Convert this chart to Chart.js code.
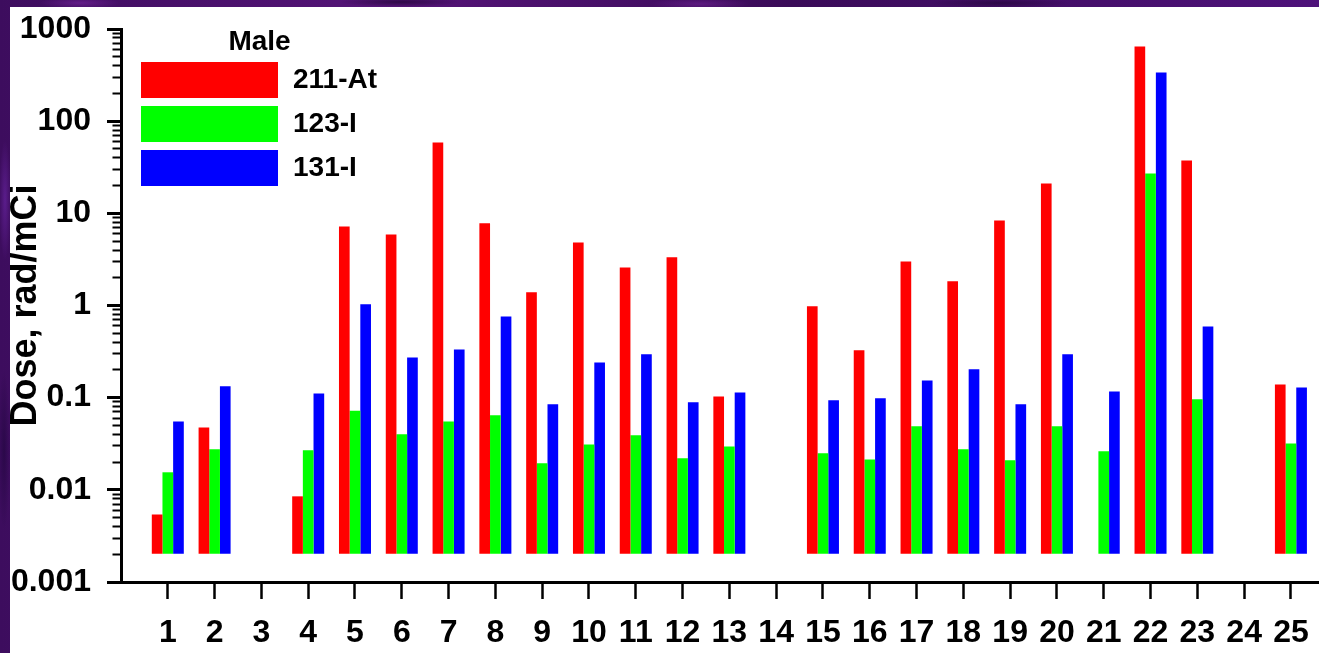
<!DOCTYPE html>
<html>
<head>
<meta charset="utf-8">
<script src="https://cdn.jsdelivr.net/npm/chart.js@4.4.1/dist/chart.umd.min.js"></script>
<style>
  html, body { margin: 0; padding: 0; width: 1319px; height: 653px; overflow: hidden; }
  body {
    background-color: #45106a;
    background-image:
      radial-gradient(ellipse 40px 6px at 80px 3px, rgba(120,40,160,0.6), transparent),
      radial-gradient(ellipse 60px 5px at 400px 2px, rgba(30,5,50,0.7), transparent),
      radial-gradient(ellipse 50px 6px at 700px 4px, rgba(120,40,160,0.5), transparent),
      radial-gradient(ellipse 70px 5px at 1000px 3px, rgba(30,5,50,0.6), transparent),
      radial-gradient(ellipse 6px 60px at 5px 200px, rgba(110,40,170,0.6), transparent),
      radial-gradient(ellipse 6px 80px at 4px 450px, rgba(30,5,60,0.6), transparent),
      linear-gradient(90deg, #3d0d5e, #551478 30%, #3a0b58 60%, #4e127a);
  }
  #wrap { position: absolute; left: 10px; top: 7px; width: 1309px; height: 646px; background: #fff; }
  canvas { display: block; }
</style>
</head>
<body>
<div id="wrap"><canvas id="c" width="1309" height="646"></canvas></div>
<script>
// ---- data ----
const categories = ['1','2','3','4','5','6','7','8','9','10','11','12','13','14','15','16','17','18','19','20','21','22','23','24','25'];
const at211 = [0.0054, 0.0476, null, 0.0085, 7.2, 5.9, 58.7, 7.8, 1.39, 4.83, 2.59, 3.33, 0.103, null, 0.98, 0.326, 3.01, 1.83, 8.38, 21.1, 0.002, 646, 37.4, null, 0.139];
const i123  = [0.0155, 0.0275, null, 0.0268, 0.0723, 0.040, 0.0553, 0.0643, 0.0194, 0.0311, 0.039, 0.022, 0.0296, null, 0.0249, 0.0214, 0.0489, 0.0275, 0.0209, 0.0489, 0.0262, 27.1, 0.0959, null, 0.0319];
const i131  = [0.0553, 0.133, null, 0.111, 1.03, 0.273, 0.334, 0.762, 0.0846, 0.241, 0.295, 0.0894, 0.114, null, 0.0938, 0.0984, 0.154, 0.203, 0.0846, 0.295, 0.117, 337, 0.593, null, 0.129];
const seriesNames = ['211-At', '123-I', '131-I'];
const seriesColors = ['#ff0000', '#00ff00', '#0000ff'];
const legendTitle = 'Male';
const yTickLabels = ['0.001', '0.01', '0.1', '1', '10', '100', '1000'];
const yTitle = 'Dose, rad/mCi';
const barBase = 0.002;

const FAM = '"Liberation Sans", Arial, Helvetica, sans-serif';
Chart.defaults.color = '#000';
Chart.defaults.font.family = FAM;

const isMajor = v => Math.abs(Math.log10(v) - Math.round(Math.log10(v))) < 1e-9;

const legendPlugin = {
  id: 'boxLegend',
  afterDraw(chart) {
    const ctx = chart.ctx;
    ctx.save();
    ctx.fillStyle = '#000';
    ctx.font = 'bold 28px ' + FAM;
    ctx.textAlign = 'center';
    ctx.textBaseline = 'middle';
    ctx.fillText(legendTitle, 249.5, 35);
    chart.data.datasets.forEach((ds, i) => {
      const y = 55 + i * 44;
      ctx.fillStyle = ds.backgroundColor;
      ctx.fillRect(131, y, 137, 36);
      ctx.fillStyle = '#000';
      ctx.font = 'bold 28px ' + FAM;
      ctx.textAlign = 'left';
      ctx.textBaseline = 'middle';
      ctx.fillText(ds.label, 283, y + 18);
    });
    ctx.restore();
  }
};

new Chart(document.getElementById('c'), {
  type: 'bar',
  data: {
    labels: categories,
    datasets: [at211, i123, i131].map((d, i) => ({
      label: seriesNames[i],
      data: d,
      backgroundColor: seriesColors[i],
      borderWidth: 0,
      base: barBase,
      categoryPercentage: 0.684,
      barPercentage: 1.0
    }))
  },
  options: {
    responsive: false,
    animation: false,
    layout: { padding: { top: 22, left: 0, right: 0, bottom: 0 } },
    plugins: { legend: { display: false }, tooltip: { enabled: false } },
    scales: {
      x: {
        type: 'linear',
        min: 0,
        max: 25.6,
        offset: false,
        afterBuildTicks: s => { s.ticks = categories.map((c, i) => ({ value: i + 1 })); },
        afterFit: s => { s.height = 71; },
        grid: { display: true, drawOnChartArea: false, offset: false, tickLength: 17, tickWidth: 2.5, tickColor: '#000' },
        border: { display: true, color: '#000', width: 3 },
        ticks: {
          autoSkip: false, maxRotation: 0, minRotation: 0, padding: 4,
          font: { family: FAM, size: 32, weight: 'bold', lineHeight: 1.87 }, color: '#000',
          callback: (v, idx) => categories[idx]
        }
      },
      y: {
        type: 'logarithmic',
        min: 0.001,
        max: 1000,
        afterBuildTicks: s => {
          const t = [];
          for (let e = -3; e <= 3; e++) {
            for (let m = 1; m <= 9; m++) {
              if (e === 3 && m > 1) break;
              t.push({ value: m * Math.pow(10, e) });
            }
          }
          s.ticks = t;
        },
        afterFit: s => { s.width = 111; },
        grid: {
          display: true, drawOnChartArea: false, tickLength: 14, tickColor: '#000',
          tickWidth: c => (c.tick && isMajor(c.tick.value)) ? 3 : 2,
          tickBorderDash: c => (c.tick && isMajor(c.tick.value)) ? [] : [0, 5.5, 8, 100]
        },
        border: { display: true, color: '#000', width: 3 },
        ticks: {
          autoSkip: false, padding: 16,
          font: { family: FAM, size: 32, weight: 'bold', lineHeight: 0.3 }, color: '#000',
          callback: v => isMajor(v) ? yTickLabels[Math.round(Math.log10(v)) + 3] : ''
        },
        title: {
          display: true, text: yTitle, color: '#000',
          font: { family: FAM, size: 36, weight: 'bold', lineHeight: 0.9 },
          padding: { top: 0, bottom: 0 }
        }
      }
    }
  },
  plugins: [legendPlugin]
});
</script>
</body>
</html>
